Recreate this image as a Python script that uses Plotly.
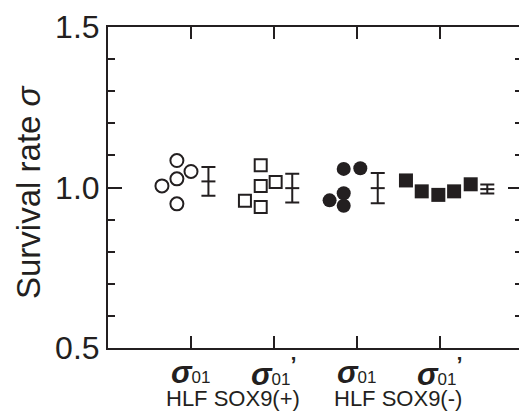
import plotly.graph_objects as go

# Group labels (two cell lines, each with sigma01 and sigma01')
cell_lines = ["HLF SOX9(+)", "HLF SOX9(-)"]
rate_labels = ["σ01", "σ01'", "σ01", "σ01'"]
category_pos = [1, 2, 3, 4]

# Individual survival-rate measurements per group
hlf_pos_s01 = [1.005, 1.084, 1.027, 1.050, 0.949]
hlf_pos_s01p = [0.959, 1.069, 1.005, 0.939, 1.017]
hlf_neg_s01 = [0.960, 1.058, 0.982, 0.943, 1.060]
hlf_neg_s01p = [1.022, 0.988, 0.977, 0.988, 1.010]

# Group mean and standard deviation
group_mean = [1.019, 0.998, 0.998, 0.995]
group_sd = [0.045, 0.045, 0.047, 0.014]

# Horizontal scatter of the points around each category
jitter = [
    [-0.35, -0.17, -0.17, 0.0, -0.17],
    [-0.35, -0.16, -0.16, -0.16, 0.02],
    [-0.33, -0.16, -0.16, -0.16, 0.04],
    [-0.41, -0.22, -0.02, 0.17, 0.37],
]
err_offset = [0.21, 0.22, 0.25, 0.57]

INK = "#231f20"
FONT = "Arial, Liberation Sans, sans-serif"

series = [hlf_pos_s01, hlf_pos_s01p, hlf_neg_s01, hlf_neg_s01p]
styles = [
    dict(symbol="circle-open", size=13, line=dict(width=2, color=INK), color=INK),
    dict(symbol="square-open", size=12, line=dict(width=2, color=INK), color=INK),
    dict(symbol="circle", size=14, color=INK, line=dict(width=0)),
    dict(symbol="square", size=14, color=INK, line=dict(width=0)),
]

fig = go.Figure()
for i, vals in enumerate(series):
    xs = [category_pos[i] + d for d in jitter[i]]
    fig.add_trace(go.Scatter(x=xs, y=vals, mode="markers", marker=styles[i],
                             showlegend=False, hoverinfo="y"))
    fig.add_trace(go.Scatter(
        x=[category_pos[i] + err_offset[i]], y=[group_mean[i]], mode="markers",
        marker=dict(symbol="line-ew", size=10, line=dict(width=2, color=INK)),
        error_y=dict(type="data", array=[group_sd[i]], color=INK, thickness=2, width=7),
        showlegend=False, hoverinfo="y"))

# Right-hand tick marks (no frame line on that side)
fig.add_trace(go.Scatter(x=[None], y=[None], yaxis="y2", showlegend=False))

annotations = []
sig = "<b><i>σ</i></b><span style='font-size:17px'>01</span>"
for i, lab in enumerate(rate_labels):
    txt = sig + ("<b><sup>’</sup></b>" if lab.endswith("'") else "")
    annotations.append(dict(x=category_pos[i], y=0.0, xref="x", yref="paper",
                            yshift=-24, text=txt, showarrow=False, xanchor="center",
                            yanchor="middle", font=dict(family=FONT, size=31, color=INK)))
for j, name in enumerate(cell_lines):
    annotations.append(dict(x=(category_pos[2 * j] + category_pos[2 * j + 1]) / 2,
                            y=0.0, yshift=-50, xref="x", yref="paper", text=name,
                            showarrow=False, xanchor="center", yanchor="middle",
                            font=dict(family=FONT, size=22, color=INK)))
annotations.append(dict(x=-0.193, y=0.485, xref="paper", yref="paper",
                        text="Survival rate <i>σ</i>", textangle=-90, showarrow=False,
                        xanchor="center", yanchor="middle",
                        font=dict(family=FONT, size=33, color=INK)))

fig.update_layout(
    width=519, height=417,
    margin=dict(l=108, r=0, t=27, b=69),
    paper_bgcolor="white", plot_bgcolor="white",
    font=dict(family=FONT, color=INK),
    annotations=annotations,
    xaxis=dict(range=[0, 4.952], tickvals=category_pos, showticklabels=False,
               ticks="inside", ticklen=12, tickwidth=2, tickcolor=INK,
               showline=True, linewidth=2, linecolor=INK, mirror="ticks",
               showgrid=False, zeroline=False),
    yaxis=dict(range=[0.5, 1.5], tickvals=[0.5, 1.0, 1.5],
               ticktext=["0.5", "1.0", "1.5"],
               ticks="inside", ticklen=14, tickwidth=2, tickcolor=INK,
               minor=dict(dtick=0.1, tick0=0.5, ticks="inside", ticklen=7,
                          tickwidth=2, tickcolor=INK, showgrid=False),
               showline=True, linewidth=2, linecolor=INK,
               showgrid=False, zeroline=False,
               tickfont=dict(family=FONT, size=32, color=INK)),
    yaxis2=dict(range=[0.5, 1.5], overlaying="y", side="right", anchor="x",
                tickvals=[0.5, 1.0, 1.5], showticklabels=False,
                ticks="inside", ticklen=11, tickwidth=2, tickcolor=INK,
                minor=dict(dtick=0.1, tick0=0.5, ticks="inside", ticklen=4,
                           tickwidth=2, tickcolor=INK, showgrid=False),
                showline=False, showgrid=False, zeroline=False),
)

fig.write_html("out.html")
